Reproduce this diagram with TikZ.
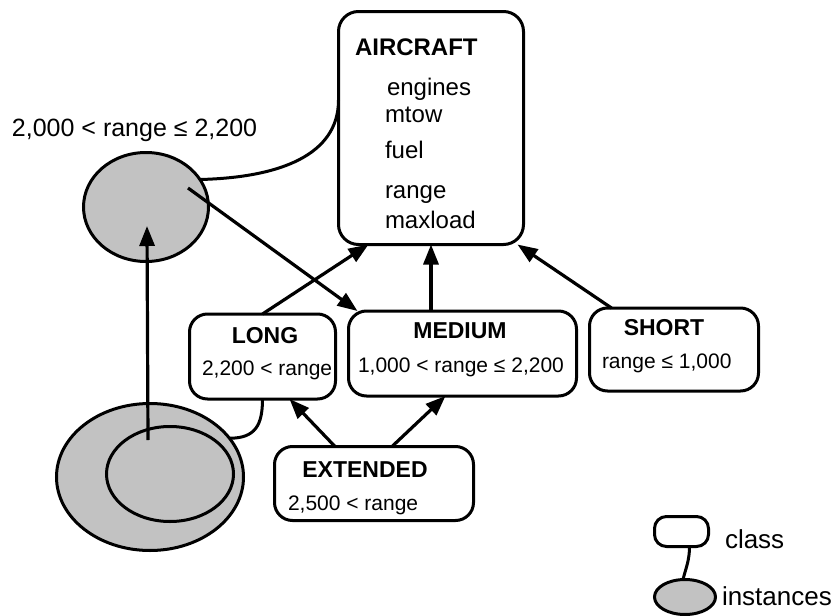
\documentclass[tikz,border=0pt]{standalone}
\usepackage{fontspec}
\setmainfont{Liberation Sans}
\usetikzlibrary{arrows.meta,calc,shapes.geometric}
\begin{document}
\begin{tikzpicture}[x=1pt,y=-1pt,
  every node/.style={inner sep=0pt, outer sep=0pt},
  classbox/.style={draw, line width=3pt, rounded corners=18pt, rectangle},
  inst/.style={draw, line width=3pt, ellipse, fill=black!24},
  link/.style={line width=3pt},
  isa/.style={line width=3.2pt, -{Triangle[length=20pt,width=15pt]}},
  ttl/.style={font=\bfseries\fontsize{23}{27}\selectfont, anchor=base},
  sub/.style={font=\fontsize{21}{25}\selectfont, anchor=base west},
  fld/.style={font=\fontsize{24}{28}\selectfont, anchor=base west},
]
\useasboundingbox (0,0) rectangle (839,616);

% class boxes
\node[classbox, rounded corners=20pt, minimum width=185pt, minimum height=233pt] (aircraft) at (431,128) {};
\node[classbox, minimum width=146pt, minimum height=85pt] (long) at (262.5,356.5) {};
\node[classbox, minimum width=228pt, minimum height=85pt] (medium) at (462.5,353.5) {};
\node[classbox, minimum width=169pt, minimum height=83pt] (short) at (674,349.5) {};
\node[classbox, minimum width=199pt, minimum height=74pt] (extended) at (374,483.5) {};

% instance sets
\node[inst, minimum width=125pt, minimum height=109pt] (e1) at (146,207) {};
\node[inst, minimum width=187pt, minimum height=147pt] (big) at (150,477) {};
\node[inst, minimum width=127pt, minimum height=95pt] (inner) at (170,474) {};

% texts
\node[font=\fontsize{25}{29}\selectfont, anchor=base west] (lbl) at (12,136) {2,000 < range ≤ 2,200};
\node[anchor=base west, font=\bfseries\fontsize{24}{28}\selectfont] (tac) at (355,55) {AIRCRAFT};
\node[fld] (f1) at (387,95) {engines};
\node[fld] (f2) at (385,122) {mtow};
\node[fld] (f3) at (385,158) {fuel};
\node[fld] (f4) at (385,198) {range};
\node[fld] (f5) at (385,228) {maxload};

\node[ttl] (tlong) at (265,343) {LONG};
\node[sub] (slong) at (202,375) {2,200 < range};
\node[ttl] (tmed) at (460,338) {MEDIUM};
\node[sub] (smed) at (358,372) {1,000 < range ≤ 2,200};
\node[ttl] (tshort) at (664,335) {SHORT};
\node[sub] (sshort) at (602,368) {range ≤ 1,000};
\node[ttl] (text) at (365,477) {EXTENDED};
\node[sub] (sext) at (288,510) {2,500 < range};

% instance-of links
\draw[link] (e1.27) .. controls +(80,-2) and +(0,55) .. ($(aircraft.north west)!0.38!(aircraft.south west)$);
\draw[link] (big.26) .. controls +(26,0) and +(0,26) .. (long.south);

% arrows
\coordinate (e1s) at (188,188);
\coordinate (e1t) at (147,226);
\coordinate (ins) at (148,440);
\draw[isa] (e1s) -- ([xshift=9pt]medium.north west);
\draw[isa] (long.north) -- ([xshift=30pt]aircraft.south west);
\draw[isa] (aircraft.south |- medium.north) -- (aircraft.south);
\draw[isa] ([xshift=22pt]short.north west) -- ([xshift=-6pt]aircraft.south east);
\draw[isa] ([xshift=-39pt]extended.north) -- ([xshift=27pt]long.south);
\draw[isa] ([xshift=18pt]extended.north) -- ([xshift=-17pt]medium.south);
\draw[isa] (ins) -- (e1t);

% legend
\node[classbox, rounded corners=12pt, minimum width=54pt, minimum height=30pt] (lclass) at (681.5,531.5) {};
\node[inst, minimum width=61pt, minimum height=35pt] (linst) at (685,597) {};
\draw[link] ([xshift=8pt]lclass.south) .. controls +(0,14) and +(3,-12) .. ([xshift=-2pt]linst.north);
\node[font=\fontsize{26}{30}\selectfont, anchor=base west] (lc) at (725,548) {class};
\node[font=\fontsize{26}{30}\selectfont, anchor=base west] (li) at (722,605) {instances};
\end{tikzpicture}
\end{document}
